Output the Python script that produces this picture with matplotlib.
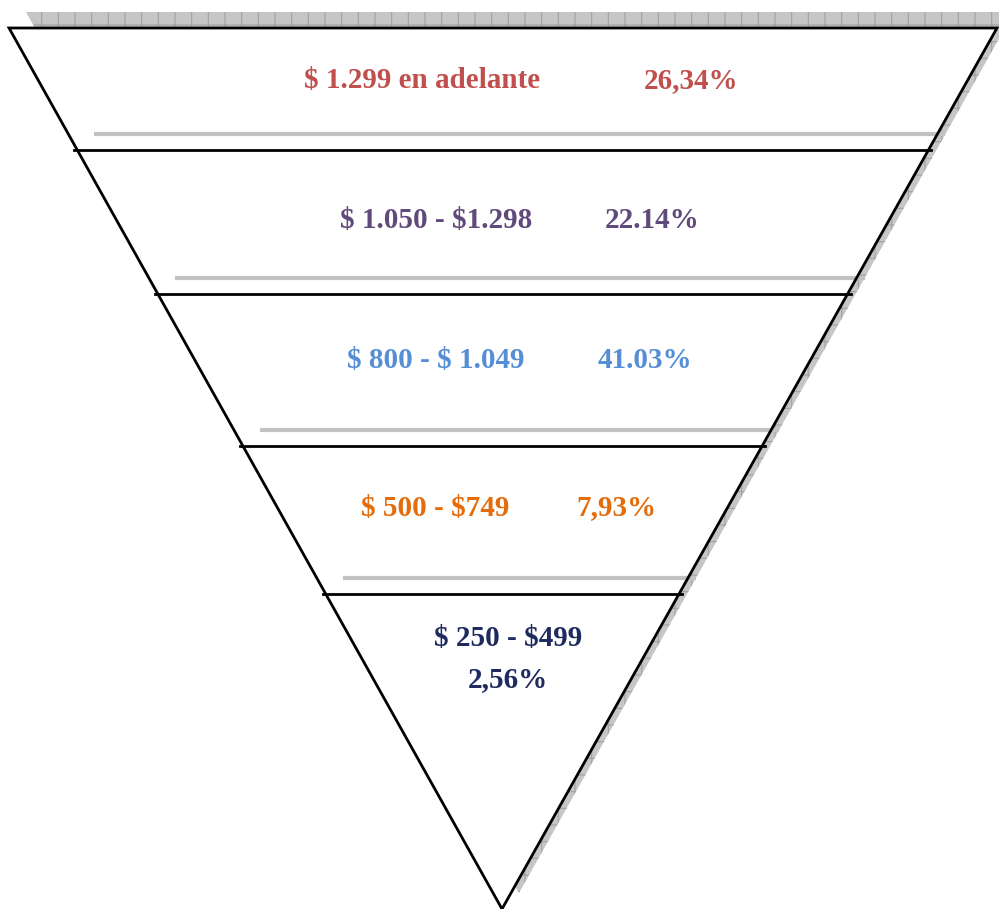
import numpy as np
import matplotlib.pyplot as plt
from matplotlib.patches import Polygon

###############################################################################
# Data
###############################################################################
ranges = ['$ 1.299 en adelante', '$ 1.050 - $1.298', '$ 800 - $ 1.049',
          '$ 500 - $749', '$ 250 - $499']
shares = ['26,34%', '22.14%', '41.03%', '7,93%', '2,56%']
colors = ['#c0504d', '#604a7b', '#558ed5', '#e46c0a', '#1f2a5e']

###############################################################################
# Layout (pixel space)
###############################################################################
(W, H) = (999, 909)
(TOP, XL, XR, APEX) = (28, 9, 997, (502, 909))
cuts = [150, 294, 446, 594]
SHIFT = (17, -16)
FONT = ['Liberation Serif', 'DejaVu Serif']
plt.rcParams['text.parse_math'] = False
plt.rcParams['hatch.linewidth'] = 0.8


def edge_x(y, side):
    x0 = XL if side == 'l' else XR
    return x0 + (APEX[0] - x0) * (y - TOP) / (APEX[1] - TOP)


fig = plt.figure(figsize=(W / 100, H / 100), dpi=100)
ax = fig.add_axes([0, 0, 1, 1])
ax.set_xlim(0, W)
ax.set_ylim(H, 0)
ax.axis('off')

tri = np.array([[XL, TOP], [XR, TOP], APEX])

# drop shadow of the funnel (grey with a fine grid)
ax.add_patch(Polygon(tri + SHIFT, closed=True, fc='#c6c6c6', ec='#a2a2a2',
                     lw=0, hatch='+', zorder=1))
ax.add_patch(Polygon(tri, closed=True, fc='white', ec='none', zorder=2))

# shadow of the dividers, then the dividers themselves
for y in cuts:
    (xa, xb) = (edge_x(y, 'l'), edge_x(y, 'r'))
    ax.plot([xa + SHIFT[0], xb + SHIFT[0]], [y + SHIFT[1]] * 2,
            color='#c2c2c2', lw=3, solid_capstyle='butt', zorder=3)
    ax.plot([xa - 3, xb + 3], [y, y], color='black', lw=2, zorder=4)

ax.add_patch(Polygon(tri, closed=True, fc='none', ec='black', lw=2,
                     joinstyle='miter', zorder=5))

###############################################################################
# Labels
###############################################################################
rows = [(422, 691, 81), (436, 652, 221), (436, 645, 361), (435, 616, 508)]
kw = dict(fontsize=21, fontweight='bold', family=FONT,
          ha='center', va='center', zorder=6)
for (lab, pct, c, (xa, xb, y)) in zip(ranges, shares, colors, rows):
    ax.text(xa, y, lab, color=c, **kw)
    ax.text(xb, y, pct, color=c, **kw)
ax.text(508, 639, ranges[-1], color=colors[-1], **kw)
ax.text(508, 680, shares[-1], color=colors[-1], **kw)

fig.savefig('out.png', dpi=100)
